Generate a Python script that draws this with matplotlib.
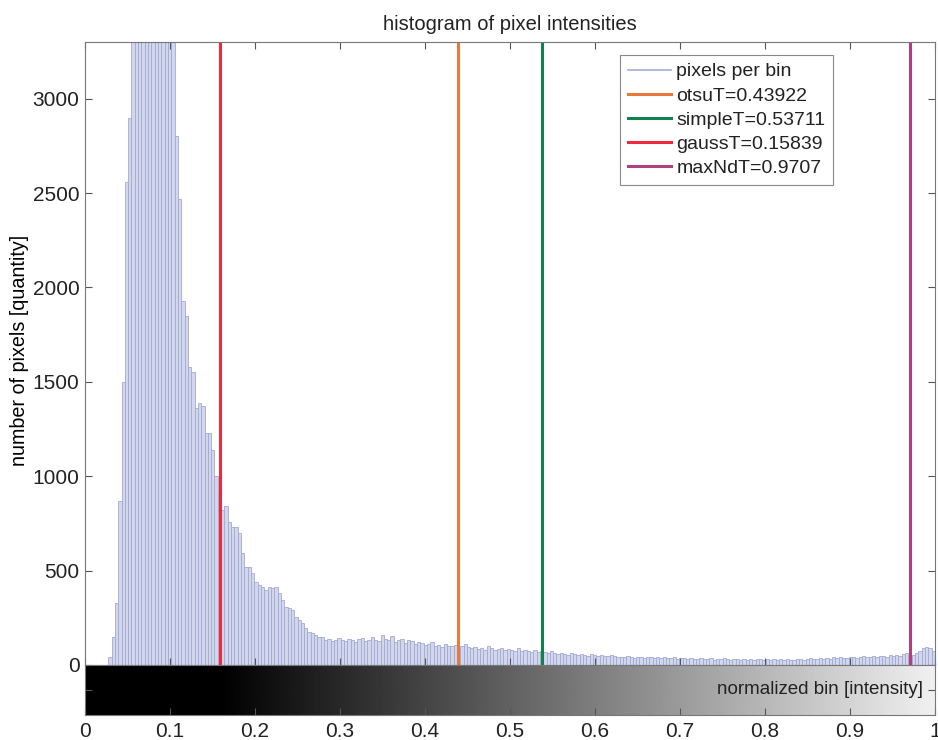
import matplotlib
matplotlib.use('Agg')
import matplotlib.pyplot as plt
import numpy as np
from matplotlib.lines import Line2D

# pixel counts per bin, 256 bins over [0, 1]
counts = [
    0, 0, 0, 0, 0, 0, 0, 40, 150, 330, 870, 1500, 2560, 2900, 3600, 4100,
    4500, 4800, 4900, 4800, 4700, 4500, 4300, 4100, 3900, 3700, 3450, 2800, 2470, 1930, 1850, 1580,
    1550, 1360, 1390, 1370, 1230, 1230, 1140, 1000, 910, 820, 840, 755, 733, 733, 700, 595,
    520, 520, 488, 441, 425, 414, 398, 414, 410, 414, 382, 345, 308, 303, 292, 255,
    239, 223, 196, 175, 170, 159, 149, 149, 133, 140, 128, 135, 145, 130, 125, 140,
    132, 120, 138, 145, 128, 130, 150, 135, 125, 160, 140, 130, 155, 120, 135, 140,
    115, 130, 125, 110, 120, 115, 105, 110, 120, 100, 108, 95, 112, 100, 98, 105,
    92, 100, 110, 95, 90, 95, 85, 90, 82, 100, 88, 80, 85, 92, 78, 84,
    80, 75, 88, 72, 80, 76, 70, 82, 68, 74, 70, 65, 72, 62, 58, 66,
    60, 55, 62, 58, 52, 60, 55, 50, 56, 52, 48, 55, 50, 46, 52, 48,
    45, 44, 40, 46, 42, 38, 44, 40, 36, 42, 45, 38, 40, 35, 42, 38,
    36, 40, 34, 38, 35, 32, 36, 30, 34, 38, 32, 30, 35, 28, 33, 30,
    36, 32, 28, 34, 30, 27, 32, 29, 31, 28, 33, 30, 26, 31, 29, 34,
    28, 30, 27, 32, 29, 26, 30, 33, 28, 31, 35, 30, 33, 36, 32, 38,
    34, 40, 36, 42, 38, 35, 40, 44, 38, 42, 46, 40, 44, 48, 42, 46,
    50, 45, 52, 48, 55, 50, 58, 62, 40, 55, 65, 75, 88, 95, 90, 75,
]

thr_names = ['otsuT', 'simpleT', 'gaussT', 'maxNdT']
thr_values = [0.43922, 0.53711, 0.15839, 0.9707]
thr_colors = ['#e8783c', '#13804e', '#ee2a3e', '#b0407c']

xtick_labels = ['0', '0.1', '0.2', '0.3', '0.4', '0.5', '0.6', '0.7', '0.8', '0.9', '1']

plt.rcParams['font.family'] = ['Liberation Sans', 'DejaVu Sans']
plt.rcParams['text.color'] = '#222222'
plt.rcParams['xtick.color'] = '#555555'
plt.rcParams['ytick.color'] = '#555555'
plt.rcParams['xtick.labelcolor'] = '#222222'
plt.rcParams['ytick.labelcolor'] = '#222222'

fig = plt.figure(figsize=(9.38, 7.4), dpi=100)
ax = fig.add_axes([85/938, 1-665/740, 850/938, 623/740])
axg = fig.add_axes([85/938, 1-715/740, 850/938, 50/740])

nb = len(counts)
centers = (np.arange(nb) + 0.5) / nb
ax.bar(centers, counts, width=1.0/nb, color='#d2d7ee', edgecolor='#a3aad2', linewidth=0.6)

for name, val, col in zip(thr_names, thr_values, thr_colors):
    ax.axvline(val, color=col, lw=2.2, label=f'{name}={val}')

ax.set_xlim(0, 1)
ax.set_ylim(0, 3300)
ax.set_xticks(np.linspace(0, 1, 11))
ax.set_xticklabels([])
ax.set_yticks(range(0, 3001, 500))
ax.tick_params(direction='in', top=True, right=True, length=5, labelsize=15, pad=4)
for s in ax.spines.values():
    s.set_color('#777777')

ax.set_title('histogram of pixel intensities', fontsize=14.5, pad=9)
ax.set_ylabel('number of pixels [quantity]', fontsize=14.2)
ax.yaxis.set_label_coords(-0.066, 0.505)

handles = [Line2D([], [], color='#a9b2e2', lw=1.3, label='pixels per bin')]
handles += ax.get_lines()
leg = ax.legend(handles=handles, loc='upper left', bbox_to_anchor=(620/938, 1-55/740),
                bbox_transform=fig.transFigure, fontsize=14, fancybox=False,
                edgecolor='#888888', framealpha=1, handlelength=2.2, labelspacing=0.34,
                borderpad=0.4, handletextpad=0.3, borderaxespad=0)
leg.get_frame().set_linewidth(0.8)

# grey-level strip under the histogram
xs = np.linspace(0, 1, 512)
grad = np.clip((xs - thr_values[2]) / (1 - thr_values[2]), 0, 1)
axg.imshow(grad[None, :], aspect='auto', cmap='gray', vmin=0, vmax=1.06,
           extent=[0, 1, 0, 1], interpolation='bilinear')
axg.set_xlim(0, 1)
axg.set_ylim(0, 1)
axg.set_xticks(np.linspace(0, 1, 11))
axg.set_xticklabels(xtick_labels)
axg.set_yticks([0.5])
axg.set_yticklabels([])
axg.tick_params(direction='in', right=True, length=5, labelsize=15, pad=5)
for s in axg.spines.values():
    s.set_color('#777777')
axg.text(0.986, 0.5, 'normalized bin [intensity]', ha='right', va='center',
         fontsize=13.5, color='#222222', transform=axg.transAxes)

fig.savefig('out.png', dpi=100)
